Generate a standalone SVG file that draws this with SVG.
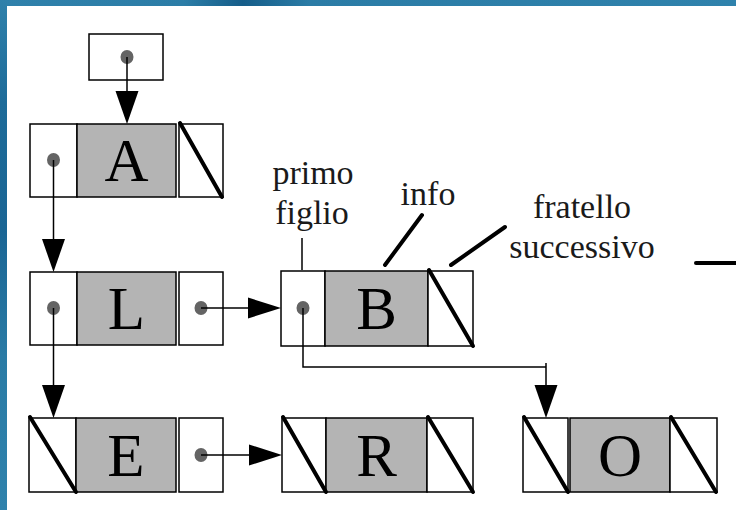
<svg xmlns="http://www.w3.org/2000/svg" width="736" height="510" viewBox="0 0 736 510">
<defs>
<linearGradient id="topg" x1="0" y1="0" x2="1" y2="0">
<stop offset="0" stop-color="#2f81ab"/>
<stop offset="0.25" stop-color="#2c7da7"/>
<stop offset="0.33" stop-color="#155d89"/>
<stop offset="0.42" stop-color="#2b7ca6"/>
<stop offset="1" stop-color="#2f82ac"/>
</linearGradient>
<linearGradient id="leftg" x1="0" y1="0" x2="0" y2="1">
<stop offset="0" stop-color="#2f81ab"/>
<stop offset="0.2" stop-color="#1d6b99"/>
<stop offset="0.45" stop-color="#1a6594"/>
<stop offset="0.7" stop-color="#2a7ba5"/>
<stop offset="1" stop-color="#2f82ac"/>
</linearGradient>
<style>
.cell{fill:#fff;stroke:#000;stroke-width:1.5}
.info{fill:#b4b4b4;stroke:#000;stroke-width:1.5}
.nil{stroke:#000;stroke-width:4;stroke-linecap:round}
.dot{fill:#646464}
.ln{fill:none;stroke:#000;stroke-width:1.5}
.ah{fill:#000}
.big{font-family:"Liberation Serif","Times New Roman",serif;font-size:61px;text-anchor:middle;fill:#000}
.lbl{font-family:"Liberation Serif","Times New Roman",serif;font-size:34px;text-anchor:middle;fill:#1a1a1a}
.lead{stroke:#000;stroke-width:4;stroke-linecap:round}
.thin{stroke:#000;stroke-width:1.5}
</style>
</defs>
<rect x="0" y="0" width="736" height="510" fill="#fff"/>
<rect x="0" y="0" width="736" height="6" fill="url(#topg)"/>
<rect x="0" y="0" width="7" height="510" fill="url(#leftg)"/>

<g id="root">
<rect class="cell" x="89" y="34" width="74" height="46"/>
<ellipse class="dot" cx="127" cy="57" rx="6.5" ry="7"/>
</g>

<g id="node-A">
<rect class="cell" x="30" y="124" width="47" height="73"/>
<rect class="info" x="77" y="124" width="99" height="73"/>
<rect class="cell" x="179" y="124" width="44" height="73"/>
<line class="nil" x1="180" y1="123" x2="222" y2="197"/>
<ellipse class="dot" cx="53.5" cy="160" rx="6.5" ry="7"/>
<text class="big" x="126.5" y="181">A</text>
</g>

<g id="node-L">
<rect class="cell" x="30" y="272" width="47" height="73"/>
<rect class="info" x="77" y="272" width="99" height="73"/>
<rect class="cell" x="179" y="272" width="44" height="73"/>
<ellipse class="dot" cx="53.5" cy="308" rx="6.5" ry="7"/>
<ellipse class="dot" cx="201" cy="308" rx="6.5" ry="7"/>
<text class="big" x="126.5" y="329">L</text>
</g>

<g id="node-B">
<rect class="cell" x="281" y="271" width="44" height="75"/>
<rect class="info" x="325" y="271" width="103" height="75"/>
<rect class="cell" x="428" y="271" width="45" height="75"/>
<line class="nil" x1="429" y1="270" x2="473" y2="346"/>
<ellipse class="dot" cx="303" cy="308" rx="6.5" ry="7"/>
<text class="big" x="376.5" y="329">B</text>
</g>

<g id="node-E">
<rect class="cell" x="29" y="418" width="47" height="74"/>
<rect class="info" x="76" y="418" width="100" height="74"/>
<rect class="cell" x="179" y="418" width="44" height="74"/>
<line class="nil" x1="30" y1="417" x2="76" y2="492"/>
<ellipse class="dot" cx="201" cy="455" rx="6.5" ry="7"/>
<text class="big" x="126" y="476">E</text>
</g>

<g id="node-R">
<rect class="cell" x="282" y="418" width="44" height="74"/>
<rect class="info" x="326" y="418" width="101" height="74"/>
<rect class="cell" x="427" y="418" width="46" height="74"/>
<line class="nil" x1="283" y1="417" x2="326" y2="492"/>
<line class="nil" x1="428" y1="417" x2="473" y2="492"/>
<text class="big" x="376.5" y="476">R</text>
</g>

<g id="node-O">
<rect class="cell" x="523" y="418" width="45" height="74"/>
<rect class="info" x="570" y="418" width="100" height="74"/>
<rect class="cell" x="670" y="418" width="47" height="74"/>
<line class="nil" x1="524" y1="417" x2="568" y2="492"/>
<line class="nil" x1="671" y1="417" x2="716" y2="492"/>
<text class="big" x="620" y="476">O</text>
</g>

<g id="connectors">
<line class="ln" x1="127" y1="57" x2="127" y2="92"/>
<polygon class="ah" points="115.5,91 138.5,91 127,124"/>
<line class="ln" x1="53.5" y1="160" x2="53.5" y2="240"/>
<polygon class="ah" points="42,239 65,239 53.5,272"/>
<line class="ln" x1="53.5" y1="308" x2="53.5" y2="386"/>
<polygon class="ah" points="42,385 65,385 53.5,418"/>
<line class="ln" x1="201" y1="308" x2="250" y2="308"/>
<polygon class="ah" points="248,297.5 248,318.5 281,308"/>
<path class="ln" d="M303,308 V367 H546 M546,363 V386"/>
<polygon class="ah" points="534.5,385 557.5,385 546,418"/>
<line class="ln" x1="201" y1="455" x2="250" y2="455"/>
<polygon class="ah" points="249,444.5 249,465.5 282,455"/>
</g>

<g id="labels">
<text class="lbl" x="313" y="184">primo</text>
<text class="lbl" x="312" y="224">figlio</text>
<line class="thin" x1="302" y1="238" x2="302" y2="270"/>
<text class="lbl" x="428" y="205">info</text>
<line class="lead" x1="422" y1="215" x2="385" y2="265"/>
<text class="lbl" x="582" y="218">fratello</text>
<text class="lbl" x="582" y="258">successivo</text>
<line class="lead" x1="505" y1="227" x2="451" y2="265"/>
<line class="lead" x1="696" y1="263" x2="738" y2="263"/>
</g>
</svg>
